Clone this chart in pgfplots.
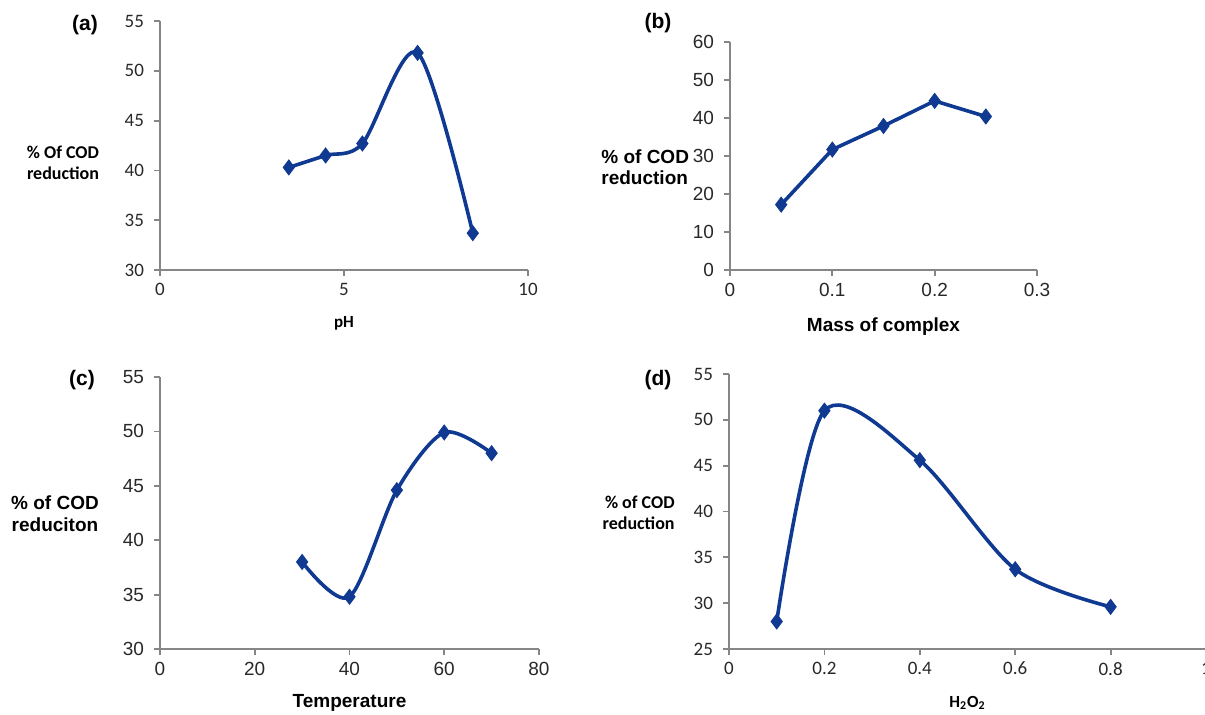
\documentclass[border=0pt]{standalone}
\usepackage{fontspec}
\setmainfont{Liberation Sans}
\newfontfamily\carlito{Carlito}
\usepackage{pgfplots}
\pgfplotsset{compat=1.18}
\definecolor{lineblue}{RGB}{16,58,145}
\definecolor{axgray}{RGB}{134,134,134}
\definecolor{tickgray}{RGB}{40,40,40}
\pgfplotsset{
  panel/.style={
    scale only axis, axis lines=left,
    axis line style={-, axgray, line width=1.1pt},
    tick style={axgray, line width=0.9pt}, tick align=outside, major tick length=3pt,
    /pgf/number format/assume math mode=true,
    yticklabel style={xshift=-1.5pt},
    clip=false, anchor=south west,
  },
  ser/.style={lineblue, line width=1.8pt, mark=diamond*, mark size=3.7pt,
    mark options={fill=lineblue, draw=lineblue, line width=0.5pt}},
}
\begin{document}
\begin{tikzpicture}
\useasboundingbox (0,0) rectangle (602.5pt,357pt);
% (a)
\begin{axis}[panel, at={(80pt,222pt)}, width=184pt, height=124.5pt,
  xmin=0, xmax=10, ymin=30, ymax=55, xtick={0,5,10}, ytick={30,35,40,45,50,55},
  tick label style={font=\carlito\fontsize{9.5}{10}\selectfont, text=tickgray}]
\addplot[ser, smooth] coordinates {(3.5,40.3)(4.5,41.5)(5.5,42.7)(7,51.8)(8.5,33.7)};
\node[font=\carlito\bfseries\fontsize{8.5}{10}\selectfont, yshift=-26.5pt] at (rel axis cs:0.5,0) {pH};
\end{axis}
% (b)
\begin{axis}[panel, at={(365pt,222pt)}, width=153.5pt, height=114pt,
  xmin=0, xmax=0.3, ymin=0, ymax=60, xtick={0,0.1,0.2,0.3}, ytick={0,10,20,30,40,50,60},
  tick label style={font=\fontsize{9.5}{10}\selectfont, text=tickgray}]
\addplot[ser] coordinates {(0.05,17.2)(0.1,31.7)(0.15,37.9)(0.2,44.5)(0.25,40.4)};
\node[font=\bfseries\fontsize{9.5}{11}\selectfont, yshift=-28.5pt] at (rel axis cs:0.5,0) {Mass of complex};
\end{axis}
% (c)
\begin{axis}[panel, at={(80pt,32.5pt)}, width=189.5pt, height=136pt,
  xmin=0, xmax=80, ymin=30, ymax=55, xtick={0,20,40,60,80}, ytick={30,35,40,45,50,55},
  tick label style={font=\fontsize{9.5}{10}\selectfont, text=tickgray}]
\addplot[ser, smooth] coordinates {(30,38.0)(40,34.8)(50,44.6)(60,49.9)(70,48.0)};
\node[font=\bfseries\fontsize{9.5}{11}\selectfont, yshift=-27pt] at (rel axis cs:0.5,0) {Temperature};
\end{axis}
% (d)
\begin{axis}[panel, at={(364.5pt,32.5pt)}, width=238.5pt, height=137.5pt,
  xmin=0, xmax=1, ymin=25, ymax=55, xtick={0,0.2,0.4,0.6,0.8,1}, ytick={25,30,35,40,45,50,55},
  tick label style={font=\carlito\fontsize{9.5}{10}\selectfont, text=tickgray}]
\addplot[ser, smooth] coordinates {(0.1,28.0)(0.2,51.0)(0.4,45.6)(0.6,33.7)(0.8,29.6)};
\node[font=\carlito\bfseries\fontsize{8.5}{10}\selectfont, yshift=-27pt] at (rel axis cs:0.5,0) {H\textsubscript{2}O\textsubscript{2}};
\end{axis}
% panel letters
\node[font=\bfseries\fontsize{10.5}{12}\selectfont] at (42.5pt,344.5pt) {(a)};
\node[font=\bfseries\fontsize{10.5}{12}\selectfont] at (329pt,345.5pt) {(b)};
\node[font=\bfseries\fontsize{10.5}{12}\selectfont] at (41pt,167pt) {(c)};
\node[font=\bfseries\fontsize{10.5}{12}\selectfont] at (329pt,167pt) {(d)};
% y labels
\node[font=\carlito\bfseries\fontsize{9}{10.5}\selectfont, align=center] at (31.5pt,275.5pt) {\% Of COD\\reduction};
\node[font=\bfseries\fontsize{9.5}{10.5}\selectfont, align=left, anchor=west, inner sep=0pt] at (300.5pt,273.5pt) {\% of COD\\reduction};
\node[font=\bfseries\fontsize{9.5}{11}\selectfont, align=center] at (27.5pt,100pt) {\% of COD\\reduciton};
\node[font=\carlito\bfseries\fontsize{9}{10.5}\selectfont, align=right, anchor=east, inner sep=0pt] at (337.5pt,100.5pt) {\% of COD\\reduction};
\end{tikzpicture}
\end{document}
